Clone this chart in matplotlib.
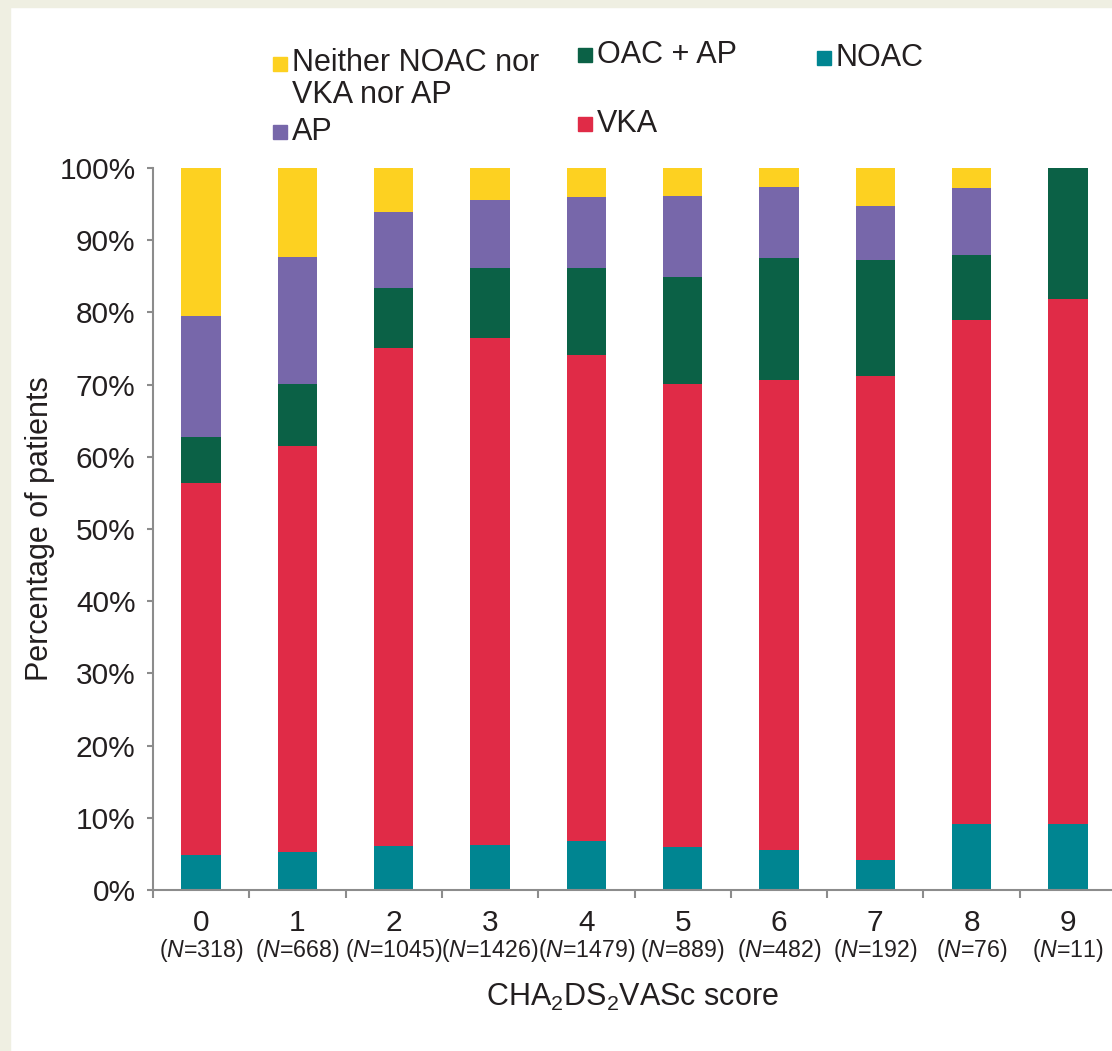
import matplotlib
matplotlib.use("Agg")
import matplotlib.pyplot as plt
from matplotlib.patches import Rectangle
import numpy as np

plt.rcParams['font.family'] = ['Liberation Sans', 'DejaVu Sans']
plt.rcParams['mathtext.fontset'] = 'custom'
plt.rcParams['mathtext.rm'] = 'Liberation Sans'
plt.rcParams['mathtext.it'] = 'Liberation Sans:italic'

# data (percent of patients per CHA2DS2VASc score)
scores = ['0', '1', '2', '3', '4', '5', '6', '7', '8', '9']
n_patients = [318, 668, 1045, 1426, 1479, 889, 482, 192, 76, 11]
noac = [4.9, 5.3, 6.1, 6.2, 6.8, 6.0, 5.5, 4.1, 9.2, 9.1]
vka = [51.5, 56.2, 69.0, 70.3, 67.3, 64.1, 65.1, 67.1, 69.7, 72.7]
oac_ap = [6.3, 8.6, 8.3, 9.6, 12.0, 14.8, 16.9, 16.0, 9.1, 18.2]
ap = [16.8, 17.6, 10.5, 9.5, 9.9, 11.2, 9.9, 7.5, 9.2, 0.0]
neither = [20.5, 12.3, 6.1, 4.4, 4.0, 3.9, 2.6, 5.3, 2.8, 0.0]

series = [
    ('NOAC', noac, '#008591'),
    ('VKA', vka, '#E02B47'),
    ('OAC + AP', oac_ap, '#0B6146'),
    ('AP', ap, '#7767AA'),
    ('Neither NOAC nor\nVKA nor AP', neither, '#FDD121'),
]

W, H = 1112, 1051
fig = plt.figure(figsize=(W / 100, H / 100), dpi=100)
fig.patch.set_facecolor('white')

# beige frame strips on the left and top
beige = '#EFEFE2'
fig.patches.append(Rectangle((0, 0), 10 / W, 1, transform=fig.transFigure, color=beige, zorder=0))
fig.patches.append(Rectangle((0, 1 - 7 / H), 1, 7 / H, transform=fig.transFigure, color=beige, zorder=0))

ax = fig.add_axes([153 / W, 161 / H, 963 / W, 722 / H])
ax.set_facecolor('none')

x = np.arange(len(scores))
bottom = np.zeros(len(scores))
for name, vals, col in series:
    ax.bar(x, vals, width=0.41, bottom=bottom, color=col, linewidth=0)
    bottom += np.array(vals)

ax.set_xlim(-0.5, 9.5)
ax.set_ylim(0, 100)
ax.set_yticks(np.arange(0, 101, 10))
ax.set_yticklabels([f'{v}%' for v in range(0, 101, 10)])

grey = '#8C8C8C'
txt = '#231F20'
for s in ['top', 'right']:
    ax.spines[s].set_visible(False)
for s in ['left', 'bottom']:
    ax.spines[s].set_color(grey)
    ax.spines[s].set_linewidth(1.5)

ax.tick_params(axis='y', length=4.5, width=1.5, color=grey, pad=8,
               labelsize=21.5, labelcolor=txt)
ax.set_xticks(x)
ax.set_xticklabels(scores)
ax.tick_params(axis='x', which='major', length=0, pad=13.5, labelsize=21.5, labelcolor=txt)
ax.set_xticks(np.arange(-0.5, 10, 1), minor=True)
ax.tick_params(axis='x', which='minor', length=6, width=1.5, color=grey)

for i, n in enumerate(n_patients):
    ax.annotate(f'($\\mathit{{N}}$={n})', xy=(i, 0), xycoords=('data', 'axes fraction'),
                xytext=(0, -43.5), textcoords='offset points',
                ha='center', va='center', fontsize=16.7, color=txt)

fig.text(632 / W, 1 - 997 / H, r'CHA$_2$DS$_2$VASc score', ha='center', va='center',
         fontsize=22, color=txt)
fig.text(40 / W, 1 - 529 / H, 'Percentage of patients', rotation=90,
         ha='center', va='center', fontsize=22, color=txt)

# legend laid out like the original (three loose columns)
legend_items = [
    ('Neither NOAC nor\nVKA nor AP', '#FDD121', 273, 64, 79),
    ('AP', '#7767AA', 273, 132, 132),
    ('OAC + AP', '#0B6146', 578, 55, 55),
    ('VKA', '#E02B47', 578, 124, 124),
    ('NOAC', '#008591', 817, 58, 58),
]
for label, col, px, py, ty in legend_items:
    fig.patches.append(Rectangle((px / W, 1 - (py + 7) / H), 14 / W, 14 / H,
                                 transform=fig.transFigure, color=col))
    fig.text((px + 19) / W, 1 - ty / H, label, ha='left', va='center',
             fontsize=22, color=txt, linespacing=1.05)

fig.savefig('out.png', dpi=100)
